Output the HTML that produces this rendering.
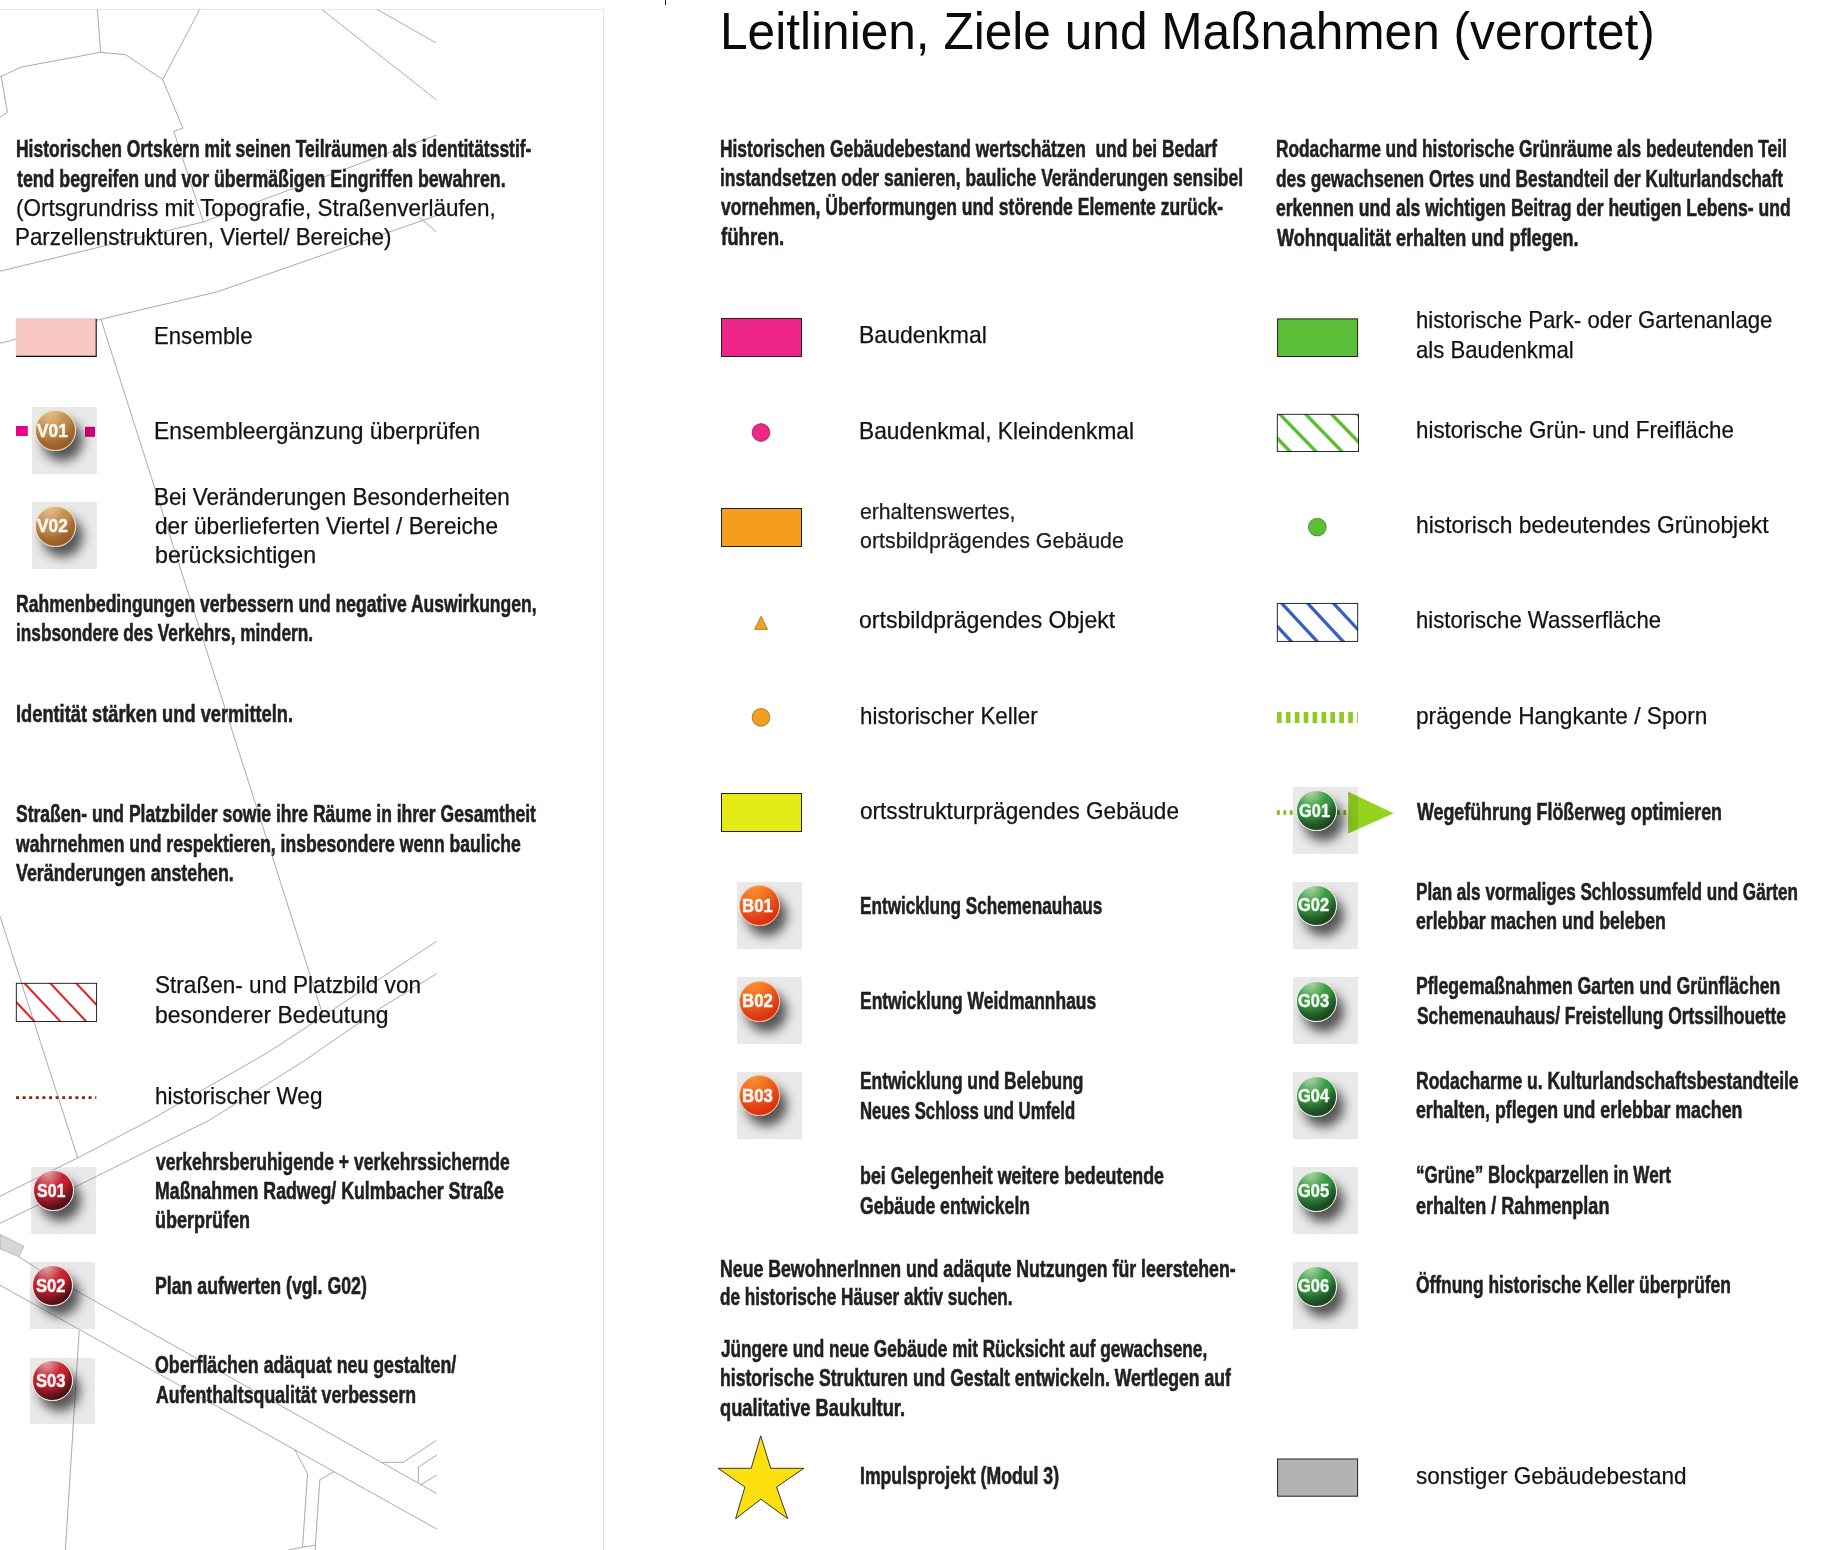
<!DOCTYPE html>
<html><head><meta charset="utf-8"><title>Leitlinien, Ziele und Maßnahmen (verortet)</title>
<style>
html,body{margin:0;padding:0;background:#fff;}
body{width:1825px;height:1550px;position:relative;overflow:hidden;font-family:"Liberation Sans",Arial,sans-serif;}
.t{position:absolute;white-space:pre;line-height:1;transform-origin:0 0;}
.b{font-size:23.2px;font-weight:700;color:#231f20;-webkit-text-stroke:0.6px #231f20;}
.r{font-size:23.4px;font-weight:400;color:#141213;-webkit-text-stroke:0.25px #141213;}
.r2{font-size:22.0px;font-weight:400;color:#1c1a1b;-webkit-text-stroke:0.25px #1c1a1b;}
.title{font-size:52.0px;font-weight:400;color:#0b0b0b;}
.ibg{position:absolute;width:65px;height:66.8px;background:#e9e9e9;}
.ball{position:absolute;border-radius:50%;box-sizing:border-box;border:1px solid;box-shadow:7px 10px 11px rgba(0,0,0,0.64);}
.ic{font-size:18.8px;font-weight:700;color:#f6f8f8;-webkit-text-stroke:0.45px currentColor;}
.box{position:absolute;box-sizing:border-box;border:1px solid #231f20;}
</style></head><body>
<div style="position:absolute;left:0;top:9px;width:603px;height:1541px;border-top:1px solid #e6e6e6;border-right:1px solid #e6e6e6;"></div>
<div style="position:absolute;left:665px;top:0;width:1px;height:5px;background:#231f20"></div>
<div class="ibg" style="left:32px;top:407px"></div>
<div class="ibg" style="left:32px;top:502px"></div>
<div class="ibg" style="left:31px;top:1167px"></div>
<div class="ibg" style="left:29.5px;top:1262px"></div>
<div class="ibg" style="left:30px;top:1357.5px"></div>
<div class="ibg" style="left:737px;top:882px"></div>
<div class="ibg" style="left:737px;top:977px"></div>
<div class="ibg" style="left:737px;top:1072px"></div>
<div class="ibg" style="left:1293px;top:787px"></div>
<div class="ibg" style="left:1293px;top:882px"></div>
<div class="ibg" style="left:1293px;top:977px"></div>
<div class="ibg" style="left:1293px;top:1072.4px"></div>
<div class="ibg" style="left:1293px;top:1167.3px"></div>
<div class="ibg" style="left:1293px;top:1262.3px"></div>
<svg style="position:absolute;left:0;top:0" width="604" height="1550" viewBox="0 0 604 1550">
<polygon points="0,1234.2 24.1,1246.3 18.9,1256.8 0,1249" fill="#d6d6d6" stroke="#9a9a9a" stroke-width="0.5"/>
<g fill="none" stroke="#707070" stroke-width="0.6">
<polyline points="97.4,9.4 100.6,52.3"/>
<polyline points="100.6,52.3 125.7,54.7 162.7,79.6"/>
<polyline points="162.7,79.6 199.7,9.4"/>
<polyline points="100.6,52.3 21,67.1 0,76.9"/>
<polyline points="1.2,76.9 7.4,112.2 0,117.1"/>
<polyline points="162.7,79.6 182.9,128.2 173.8,131.4 203.4,221.9"/>
<polyline points="436.4,135.1 203.4,221.9 0,271.2"/>
<polyline points="419.1,217 436.4,231.8"/>
<polyline points="436.4,215.7 332.8,251.5 217,291.9 98.6,319.8 16,339.3 0,343.2"/>
<polyline points="321.7,9.4 436.4,99.9"/>
<polyline points="377.2,9.4 436.4,43.1"/>
<polyline points="101.1,319.8 323.2,1016.1"/>
<polyline points="436.7,941.2 270,1051.2 150.4,1120 77.7,1157.9 0,1196.2"/>
<polyline points="436.7,973.7 378.5,1009.3 305.5,1060 209.6,1120 74,1187.5 0,1223.3"/>
<polyline points="0,916.2 77.7,1157.9"/>
<polyline points="18.9,1256.8 38.9,1269.6"/>
<polyline points="38.9,1269.6 436.7,1493.5"/>
<polyline points="0,1285.2 436.7,1529"/>
<polyline points="79.2,1330.6 65.4,1550"/>
<polyline points="294.7,1449.6 307.5,1473.7 302.5,1547.2 287.8,1550"/>
<polyline points="334.1,1471.8 319.8,1479.7 315.4,1545.2 302.5,1547.2"/>
<polyline points="315.4,1545.2 315.4,1550"/>
<polyline points="382.4,1462.4 403.1,1462.4 436.7,1440.2"/>
<polyline points="436.7,1455 418.4,1467.1 418.4,1482.6"/>
<polyline points="420.9,1484.6 436.7,1475.2"/>
</g></svg>
<div class="ball" style="left:34.7px;top:410.4px;width:41px;height:41px;background:radial-gradient(ellipse 95% 110% at 35% 0%, #e2c28c 0%, #d9b078 18%, #c6904f 42%, #c08a4b 56%, #a86d33 72%, #9a5f29 86%, #955c27 100%);border-color:#f3dcb2"></div>
<div class="ball" style="left:34.7px;top:505.7px;width:41px;height:41px;background:radial-gradient(ellipse 95% 110% at 35% 0%, #e2c28c 0%, #d9b078 18%, #c6904f 42%, #c08a4b 56%, #a86d33 72%, #9a5f29 86%, #955c27 100%);border-color:#f3dcb2"></div>
<div class="ball" style="left:33.4px;top:1170.1px;width:41px;height:41px;background:radial-gradient(ellipse 95% 110% at 35% 0%, #dfa9ad 0%, #d47079 20%, #c62834 42%, #c1202c 58%, #8e1822 72%, #56111a 86%, #4a0f14 100%);border-color:#f2e6e6"></div>
<div class="ball" style="left:31.7px;top:1265.2px;width:41px;height:41px;background:radial-gradient(ellipse 95% 110% at 35% 0%, #dfa9ad 0%, #d47079 20%, #c62834 42%, #c1202c 58%, #8e1822 72%, #56111a 86%, #4a0f14 100%);border-color:#f2e6e6"></div>
<div class="ball" style="left:31.7px;top:1360.1px;width:41px;height:41px;background:radial-gradient(ellipse 95% 110% at 35% 0%, #dfa9ad 0%, #d47079 20%, #c62834 42%, #c1202c 58%, #8e1822 72%, #56111a 86%, #4a0f14 100%);border-color:#f2e6e6"></div>
<div class="ball" style="left:739.3px;top:885.1px;width:41px;height:41px;background:radial-gradient(ellipse 95% 110% at 35% 0%, #f6902e 0%, #f3822a 20%, #ee6a21 42%, #ea5a1b 58%, #e2441a 72%, #dc3510 86%, #d83010 100%);border-color:#f9b889"></div>
<div class="ball" style="left:739.3px;top:980.7px;width:41px;height:41px;background:radial-gradient(ellipse 95% 110% at 35% 0%, #f6902e 0%, #f3822a 20%, #ee6a21 42%, #ea5a1b 58%, #e2441a 72%, #dc3510 86%, #d83010 100%);border-color:#f9b889"></div>
<div class="ball" style="left:739.3px;top:1075.2px;width:41px;height:41px;background:radial-gradient(ellipse 95% 110% at 35% 0%, #f6902e 0%, #f3822a 20%, #ee6a21 42%, #ea5a1b 58%, #e2441a 72%, #dc3510 86%, #d83010 100%);border-color:#f9b889"></div>
<div class="ball" style="left:1295.9px;top:790.1px;width:41px;height:41px;background:radial-gradient(ellipse 95% 110% at 35% 0%, #b0d8ac 0%, #7fbe80 20%, #3e9c45 42%, #37933e 58%, #276830 72%, #1d4b21 86%, #1a451e 100%);border-color:#e4efe2"></div>
<div class="ball" style="left:1295.5px;top:885.0px;width:41px;height:41px;background:radial-gradient(ellipse 95% 110% at 35% 0%, #b0d8ac 0%, #7fbe80 20%, #3e9c45 42%, #37933e 58%, #276830 72%, #1d4b21 86%, #1a451e 100%);border-color:#e4efe2"></div>
<div class="ball" style="left:1295.5px;top:980.7px;width:41px;height:41px;background:radial-gradient(ellipse 95% 110% at 35% 0%, #b0d8ac 0%, #7fbe80 20%, #3e9c45 42%, #37933e 58%, #276830 72%, #1d4b21 86%, #1a451e 100%);border-color:#e4efe2"></div>
<div class="ball" style="left:1295.5px;top:1075.8px;width:41px;height:41px;background:radial-gradient(ellipse 95% 110% at 35% 0%, #b0d8ac 0%, #7fbe80 20%, #3e9c45 42%, #37933e 58%, #276830 72%, #1d4b21 86%, #1a451e 100%);border-color:#e4efe2"></div>
<div class="ball" style="left:1295.5px;top:1170.5px;width:41px;height:41px;background:radial-gradient(ellipse 95% 110% at 35% 0%, #b0d8ac 0%, #7fbe80 20%, #3e9c45 42%, #37933e 58%, #276830 72%, #1d4b21 86%, #1a451e 100%);border-color:#e4efe2"></div>
<div class="ball" style="left:1295.5px;top:1265.5px;width:41px;height:41px;background:radial-gradient(ellipse 95% 110% at 35% 0%, #b0d8ac 0%, #7fbe80 20%, #3e9c45 42%, #37933e 58%, #276830 72%, #1d4b21 86%, #1a451e 100%);border-color:#e4efe2"></div>
<svg style="position:absolute;left:0;top:0" width="1825" height="1550" viewBox="0 0 1825 1550">
<rect x="16" y="318.5" width="80.5" height="38" fill="#f9c8c5"/>
<path d="M16.2,356 V318.7 H96" fill="none" stroke="#c9d2cc" stroke-width="0.6"/>
<path d="M96.2,318.8 V356.4 H16" fill="none" stroke="#111" stroke-width="1.1"/>
<rect x="16" y="426" width="11.8" height="10" fill="#ea008a"/>
<rect x="85" y="426.8" width="10" height="10" fill="#e6007e" style="mix-blend-mode:multiply"/>
<clipPath id="hr"><rect x="16.3" y="983.3" width="80.3" height="38.2"/></clipPath>
<g clip-path="url(#hr)" stroke="#ed1c24" stroke-width="2.0">
<line x1="-55.08" y1="981.3" x2="-15.41" y2="1023.5"/>
<line x1="-29.18" y1="981.3" x2="10.49" y2="1023.5"/>
<line x1="-3.28" y1="981.3" x2="36.39" y2="1023.5"/>
<line x1="22.62" y1="981.3" x2="62.29" y2="1023.5"/>
<line x1="48.52" y1="981.3" x2="88.19" y2="1023.5"/>
<line x1="74.42" y1="981.3" x2="114.09" y2="1023.5"/>
</g>
<rect x="16.3" y="983.3" width="80.3" height="38.2" fill="none" stroke="#111" stroke-width="0.9"/>
<line x1="16" y1="1097.6" x2="96.3" y2="1097.6" stroke="#7b2d0f" stroke-width="2.8" stroke-dasharray="3 3.6"/>
<rect x="721.5" y="318.5" width="80" height="38" fill="#ee2687" stroke="#231f20" stroke-width="1"/>
<circle cx="761" cy="432.5" r="8.9" fill="#ee2788" stroke="#5a1030" stroke-width="0.6"/>
<rect x="721.5" y="508.5" width="80" height="38" fill="#f49d1f" stroke="#231f20" stroke-width="1"/>
<polygon points="761.1,616.2 767.6,629.4 754.5,629.4" fill="#f7a11a" stroke="#7a5020" stroke-width="0.6"/>
<circle cx="761" cy="717.4" r="8.9" fill="#f49d1f" stroke="#7a5020" stroke-width="0.6"/>
<rect x="721.5" y="793.5" width="80" height="38" fill="#e5eb17" stroke="#231f20" stroke-width="1"/>
<polygon points="760.7,1435.8 770.7,1468.3 803.9,1468.3 776.5,1487 787.7,1518.7 760.9,1499.2 735.6,1518.7 744.9,1487 718,1468.3 751.2,1468.3" fill="#fde00f" stroke="#231f20" stroke-width="0.9" stroke-linejoin="miter"/>
<rect x="1277.6" y="318.9" width="80" height="37.6" fill="#5bbf3a" stroke="#231f20" stroke-width="1"/>
<clipPath id="hg"><rect x="1277.3" y="414.3" width="81.2" height="37.2"/></clipPath>
<g clip-path="url(#hg)" stroke="#5bbf32" stroke-width="3.4">
<line x1="1200.26" y1="412.3" x2="1240.22" y2="453.5"/>
<line x1="1226.16" y1="412.3" x2="1266.12" y2="453.5"/>
<line x1="1252.06" y1="412.3" x2="1292.02" y2="453.5"/>
<line x1="1277.96" y1="412.3" x2="1317.92" y2="453.5"/>
<line x1="1303.86" y1="412.3" x2="1343.82" y2="453.5"/>
<line x1="1329.76" y1="412.3" x2="1369.72" y2="453.5"/>
<line x1="1355.66" y1="412.3" x2="1395.62" y2="453.5"/>
</g>
<rect x="1277.3" y="414.3" width="81.2" height="37.2" fill="none" stroke="#111" stroke-width="0.9"/>
<circle cx="1317.3" cy="527.1" r="8.9" fill="#5bbf32" stroke="#2a5a1a" stroke-width="0.6"/>
<clipPath id="hb"><rect x="1277.3" y="603.4" width="80.4" height="38.0"/></clipPath>
<g clip-path="url(#hb)" stroke="#3a5fbf" stroke-width="3.3">
<line x1="1202.24" y1="601.4" x2="1241.30" y2="643.4"/>
<line x1="1228.14" y1="601.4" x2="1267.20" y2="643.4"/>
<line x1="1254.04" y1="601.4" x2="1293.10" y2="643.4"/>
<line x1="1279.94" y1="601.4" x2="1319.00" y2="643.4"/>
<line x1="1305.84" y1="601.4" x2="1344.90" y2="643.4"/>
<line x1="1331.74" y1="601.4" x2="1370.80" y2="643.4"/>
<line x1="1357.64" y1="601.4" x2="1396.70" y2="643.4"/>
</g>
<rect x="1277.3" y="603.4" width="80.4" height="38.0" fill="none" stroke="#111" stroke-width="0.9"/>
<line x1="1277" y1="717.4" x2="1358" y2="717.4" stroke="#8fcb1e" stroke-width="11" stroke-dasharray="4.6 4.3"/>
<rect x="1277.6" y="1459" width="80" height="37.2" fill="#b3b3b3" stroke="#231f20" stroke-width="1"/>
</svg>
<svg style="position:absolute;left:0;top:0;mix-blend-mode:multiply" width="1825" height="1550" viewBox="0 0 1825 1550">
<line x1="1277" y1="812.6" x2="1296" y2="812.6" stroke="#80c31c" stroke-width="4.6" stroke-dasharray="2.8 3.6"/>
<line x1="1337" y1="812.6" x2="1347" y2="812.6" stroke="#80c31c" stroke-width="4.6" stroke-dasharray="2.8 3.6"/>
<polygon points="1348.2,791.8 1393.6,813.2 1348.2,833.4" fill="#93d21f"/>
</svg>
<div class="t title" style="left:719.97px;top:4.78px;transform:scaleX(0.9541);">Leitlinien, Ziele und Maßnahmen (verortet)</div>
<div class="t b" style="left:16.00px;top:138.06px;transform:scaleX(0.7538);">Historischen Ortskern mit seinen Teilräumen als identitätsstif-</div>
<div class="t b" style="left:17.00px;top:167.96px;transform:scaleX(0.7646);">tend begreifen und vor übermäßigen Eingriffen bewahren.</div>
<div class="t r" style="left:15.99px;top:196.59px;transform:scaleX(0.9595);">(Ortsgrundriss mit Topografie, Straßenverläufen,</div>
<div class="t r" style="left:14.98px;top:226.19px;transform:scaleX(0.9566);">Parzellenstrukturen, Viertel/ Bereiche)</div>
<div class="t r" style="left:153.95px;top:324.79px;transform:scaleX(0.9468);">Ensemble</div>
<div class="t r" style="left:153.98px;top:419.89px;transform:scaleX(0.9761);">Ensembleergänzung überprüfen</div>
<div class="t r" style="left:153.98px;top:485.79px;transform:scaleX(0.9595);">Bei Veränderungen Besonderheiten</div>
<div class="t r" style="left:154.99px;top:514.89px;transform:scaleX(0.9675);">der überlieferten Viertel / Bereiche</div>
<div class="t r" style="left:154.98px;top:544.09px;transform:scaleX(0.9908);">berücksichtigen</div>
<div class="t b" style="left:15.99px;top:593.06px;transform:scaleX(0.7562);">Rahmenbedingungen verbessern und negative Auswirkungen,</div>
<div class="t b" style="left:15.99px;top:621.56px;transform:scaleX(0.7435);">insbsondere des Verkehrs, mindern.</div>
<div class="t b" style="left:15.99px;top:702.86px;transform:scaleX(0.7875);">Identität stärken und vermitteln.</div>
<div class="t b" style="left:16.00px;top:802.66px;transform:scaleX(0.7557);">Straßen- und Platzbilder sowie ihre Räume in ihrer Gesamtheit</div>
<div class="t b" style="left:16.00px;top:832.76px;transform:scaleX(0.7578);">wahrnehmen und respektieren, insbesondere wenn bauliche</div>
<div class="t b" style="left:16.00px;top:861.56px;transform:scaleX(0.7683);">Veränderungen anstehen.</div>
<div class="t r" style="left:154.99px;top:974.39px;transform:scaleX(0.9651);">Straßen- und Platzbild von</div>
<div class="t r" style="left:154.99px;top:1004.39px;transform:scaleX(0.9808);">besonderer Bedeutung</div>
<div class="t r" style="left:154.99px;top:1085.39px;transform:scaleX(0.9635);">historischer Weg</div>
<div class="t b" style="left:156.00px;top:1150.96px;transform:scaleX(0.7548);">verkehrsberuhigende + verkehrssichernde</div>
<div class="t b" style="left:155.00px;top:1180.06px;transform:scaleX(0.7647);">Maßnahmen Radweg/ Kulmbacher Straße</div>
<div class="t b" style="left:154.98px;top:1209.26px;transform:scaleX(0.7764);">überprüfen</div>
<div class="t b" style="left:154.99px;top:1275.26px;transform:scaleX(0.7646);">Plan aufwerten (vgl. G02)</div>
<div class="t b" style="left:155.00px;top:1354.26px;transform:scaleX(0.7664);">Oberflächen adäquat neu gestalten/</div>
<div class="t b" style="left:156.00px;top:1383.96px;transform:scaleX(0.7649);">Aufenthaltsqualität verbessern</div>
<div class="t b" style="left:720.00px;top:138.06px;transform:scaleX(0.7490);">Historischen Gebäudebestand wertschätzen  und bei Bedarf</div>
<div class="t b" style="left:720.00px;top:167.26px;transform:scaleX(0.7530);">instandsetzen oder sanieren, bauliche Veränderungen sensibel</div>
<div class="t b" style="left:721.00px;top:196.36px;transform:scaleX(0.7566);">vornehmen, Überformungen und störende Elemente zurück-</div>
<div class="t b" style="left:721.00px;top:226.16px;transform:scaleX(0.8046);">führen.</div>
<div class="t r" style="left:858.93px;top:324.49px;transform:scaleX(0.9836);">Baudenkmal</div>
<div class="t r" style="left:858.97px;top:419.59px;transform:scaleX(0.9703);">Baudenkmal, Kleindenkmal</div>
<div class="t r2" style="left:859.97px;top:500.58px;transform:scaleX(0.9630);">erhaltenswertes,</div>
<div class="t r2" style="left:859.99px;top:530.28px;transform:scaleX(0.9716);">ortsbildprägendes Gebäude</div>
<div class="t r" style="left:858.99px;top:609.49px;transform:scaleX(0.9852);">ortsbildprägendes Objekt</div>
<div class="t r" style="left:859.99px;top:704.89px;transform:scaleX(0.9554);">historischer Keller</div>
<div class="t r" style="left:859.99px;top:800.09px;transform:scaleX(0.9659);">ortsstrukturprägendes Gebäude</div>
<div class="t b" style="left:859.99px;top:895.06px;transform:scaleX(0.7401);">Entwicklung Schemenauhaus</div>
<div class="t b" style="left:859.99px;top:990.46px;transform:scaleX(0.7524);">Entwicklung Weidmannhaus</div>
<div class="t b" style="left:859.99px;top:1070.26px;transform:scaleX(0.7508);">Entwicklung und Belebung</div>
<div class="t b" style="left:859.99px;top:1099.66px;transform:scaleX(0.7199);">Neues Schloss und Umfeld</div>
<div class="t b" style="left:860.00px;top:1164.86px;transform:scaleX(0.7685);">bei Gelegenheit weitere bedeutende</div>
<div class="t b" style="left:859.99px;top:1194.96px;transform:scaleX(0.7583);">Gebäude entwickeln</div>
<div class="t b" style="left:720.00px;top:1257.86px;transform:scaleX(0.7638);">Neue BewohnerInnen und adäqute Nutzungen für leerstehen-</div>
<div class="t b" style="left:719.99px;top:1286.36px;transform:scaleX(0.7396);">de historische Häuser aktiv suchen.</div>
<div class="t b" style="left:721.00px;top:1338.26px;transform:scaleX(0.7413);">Jüngere und neue Gebäude mit Rücksicht auf gewachsene,</div>
<div class="t b" style="left:720.00px;top:1367.36px;transform:scaleX(0.7602);">historische Strukturen und Gestalt entwickeln. Wertlegen auf</div>
<div class="t b" style="left:719.99px;top:1396.86px;transform:scaleX(0.7890);">qualitative Baukultur.</div>
<div class="t b" style="left:859.99px;top:1465.06px;transform:scaleX(0.7610);">Impulsprojekt (Modul 3)</div>
<div class="t b" style="left:1276.39px;top:138.46px;transform:scaleX(0.7457);">Rodacharme und historische Grünräume als bedeutenden Teil</div>
<div class="t b" style="left:1276.40px;top:167.86px;transform:scaleX(0.7467);">des gewachsenen Ortes und Bestandteil der Kulturlandschaft</div>
<div class="t b" style="left:1276.39px;top:196.66px;transform:scaleX(0.7565);">erkennen und als wichtigen Beitrag der heutigen Lebens- und</div>
<div class="t b" style="left:1277.40px;top:226.66px;transform:scaleX(0.7787);">Wohnqualität erhalten und pflegen.</div>
<div class="t r" style="left:1416.20px;top:309.49px;transform:scaleX(0.9485);">historische Park- oder Gartenanlage</div>
<div class="t r" style="left:1416.19px;top:339.49px;transform:scaleX(0.9471);">als Baudenkmal</div>
<div class="t r" style="left:1416.20px;top:419.09px;transform:scaleX(0.9549);">historische Grün- und Freifläche</div>
<div class="t r" style="left:1416.20px;top:514.39px;transform:scaleX(0.9754);">historisch bedeutendes Grünobjekt</div>
<div class="t r" style="left:1416.19px;top:609.49px;transform:scaleX(0.9456);">historische Wasserfläche</div>
<div class="t r" style="left:1416.19px;top:704.59px;transform:scaleX(0.9701);">prägende Hangkante / Sporn</div>
<div class="t b" style="left:1417.20px;top:800.66px;transform:scaleX(0.7695);">Wegeführung Flößerweg optimieren</div>
<div class="t b" style="left:1416.20px;top:880.56px;transform:scaleX(0.7374);">Plan als vormaliges Schlossumfeld und Gärten</div>
<div class="t b" style="left:1416.19px;top:909.96px;transform:scaleX(0.7603);">erlebbar machen und beleben</div>
<div class="t b" style="left:1416.20px;top:975.36px;transform:scaleX(0.7599);">Pflegemaßnahmen Garten und Grünflächen</div>
<div class="t b" style="left:1417.20px;top:1005.06px;transform:scaleX(0.7497);">Schemenauhaus/ Freistellung Ortssilhouette</div>
<div class="t b" style="left:1416.20px;top:1070.06px;transform:scaleX(0.7556);">Rodacharme u. Kulturlandschaftsbestandteile</div>
<div class="t b" style="left:1416.20px;top:1099.46px;transform:scaleX(0.7653);">erhalten, pflegen und erlebbar machen</div>
<div class="t b" style="left:1416.20px;top:1164.46px;transform:scaleX(0.7366);">“Grüne” Blockparzellen in Wert</div>
<div class="t b" style="left:1416.19px;top:1194.56px;transform:scaleX(0.7777);">erhalten / Rahmenplan</div>
<div class="t b" style="left:1416.20px;top:1274.36px;transform:scaleX(0.7496);">Öffnung historische Keller überprüfen</div>
<div class="t r" style="left:1416.20px;top:1464.59px;transform:scaleX(0.9634);">sonstiger Gebäudebestand</div>
<div class="t ic" style="left:37.40px;top:421.89px;transform:scaleX(0.9219);">V01</div>
<div class="t ic" style="left:37.40px;top:517.19px;transform:scaleX(0.9219);">V02</div>
<div class="t ic" style="left:37.41px;top:1181.59px;transform:scaleX(0.8501);">S01</div>
<div class="t ic" style="left:35.59px;top:1276.69px;transform:scaleX(0.8805);">S02</div>
<div class="t ic" style="left:35.59px;top:1371.59px;transform:scaleX(0.8805);">S03</div>
<div class="t ic" style="left:741.76px;top:896.59px;transform:scaleX(0.8947);">B01</div>
<div class="t ic" style="left:741.76px;top:992.19px;transform:scaleX(0.8958);">B02</div>
<div class="t ic" style="left:741.76px;top:1086.69px;transform:scaleX(0.8958);">B03</div>
<div class="t ic" style="left:1298.60px;top:801.59px;transform:scaleX(0.8732);">G01</div>
<div class="t ic" style="left:1298.00px;top:896.49px;transform:scaleX(0.8732);">G02</div>
<div class="t ic" style="left:1298.00px;top:992.19px;transform:scaleX(0.8732);">G03</div>
<div class="t ic" style="left:1298.00px;top:1087.29px;transform:scaleX(0.8732);">G04</div>
<div class="t ic" style="left:1298.00px;top:1181.99px;transform:scaleX(0.8732);">G05</div>
<div class="t ic" style="left:1298.00px;top:1276.99px;transform:scaleX(0.8732);">G06</div>
</body></html>
